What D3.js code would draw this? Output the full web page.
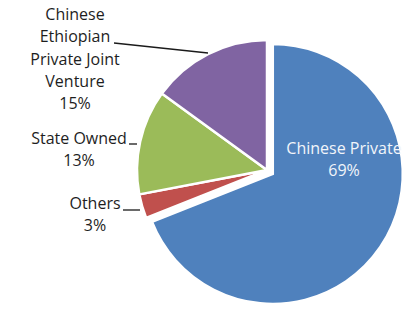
<!DOCTYPE html>
<html>
<head>
<meta charset="utf-8">
<script src="https://cdn.jsdelivr.net/npm/d3@7"></script>
<style>
  body { margin: 0; background: #fff; }
  svg { display: block; font-family: "Open Sans", sans-serif; }
</style>
</head>
<body>
<svg width="418" height="320"></svg>
<script>
// data
const categories = ["Chinese Private", "Others", "State Owned", "Chinese Ethiopian Private Joint Venture"];
const shares = [69, 3, 13, 15];
const sliceColors = ["#4f81bd", "#c0504d", "#9bbb59", "#8064a2"];

// label layout (lines, text anchor, leader end) - picked by eye
const labelLayout = [
  { lines: ["Chinese Private", "69%"], x: 344, y: 154, inside: true },
  { lines: ["Others", "3%"], x: 95, y: 209, leader: [[123, 210], [140, 210]] },
  { lines: ["State Owned", "13%"], x: 79, y: 144, leader: [[129, 144], [137, 144]] },
  { lines: ["Chinese", "Ethiopian", "Private Joint", "Venture", "15%"], x: 75, y: 20,
    leader: [[114, 43], [208, 53]] }
];

const svg = d3.select("svg");
const cx = 267, cy = 170, radius = 130, explode = 7;
const lineH = 22.3;

const pie = d3.pie().sort(null).value(d => d);
const arcs = pie(shares);
const arc = d3.arc().innerRadius(0).outerRadius(radius);

const g = svg.append("g").attr("transform", "translate(" + cx + "," + cy + ")");

g.selectAll(".slice")
  .data(arcs)
  .enter().append("path")
  .attr("class", "slice")
  .attr("d", arc)
  .attr("fill", (d, i) => sliceColors[i])
  .attr("stroke", "#fff")
  .attr("stroke-width", 2.5)
  .attr("transform", (d, i) => {
    if (i !== 0) return null;
    const a = (d.startAngle + d.endAngle) / 2;
    return "translate(" + (Math.sin(a) * explode) + "," + (-Math.cos(a) * explode) + ")";
  });

// leader lines
labelLayout.forEach(l => {
  if (!l.leader) return;
  svg.append("line")
    .attr("x1", l.leader[0][0]).attr("y1", l.leader[0][1])
    .attr("x2", l.leader[1][0]).attr("y2", l.leader[1][1])
    .attr("stroke", "#1a1a1a")
    .attr("stroke-width", 1.3);
});

// labels
labelLayout.forEach((l, i) => {
  const t = svg.append("text")
    .attr("text-anchor", "middle")
    .attr("font-size", "16px")
    .attr("fill", l.inside ? "#f2f5fa" : "#1e1e1e");
  l.lines.forEach((s, j) => {
    t.append("tspan")
      .attr("x", l.x)
      .attr("y", l.y + j * lineH)
      .text(s);
  });
});
</script>
</body>
</html>
